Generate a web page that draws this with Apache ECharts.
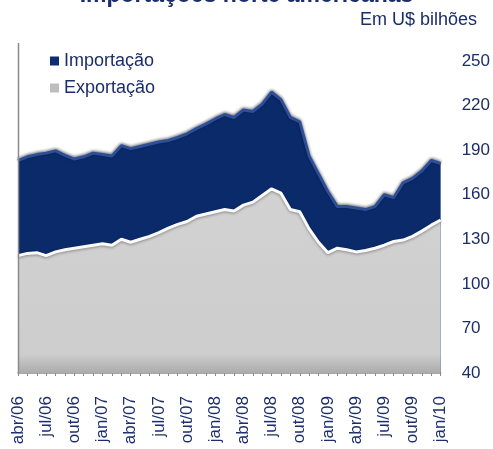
<!DOCTYPE html>
<html>
<head>
<meta charset="utf-8">
<script src="https://cdn.jsdelivr.net/npm/echarts@6/dist/echarts.min.js"></script>
<style>
html,body{margin:0;padding:0;background:#fff;}
#c{width:493px;height:449px;}
</style>
</head>
<body>
<div id="c"></div>
<script>
var months = ['jan','fev','mar','abr','mai','jun','jul','ago','set','out','nov','dez'];
var categories = [];
(function(){
  var y = 2006, m = 3;
  for (var k = 0; k < 46; k++) {
    categories.push(months[m] + '/' + String(y).slice(2));
    m++; if (m > 11) { m = 0; y++; }
  }
})();

var importacao = [183,185.5,187,188,189.5,186.5,184,185.5,188,187,186,193,191,192.5,194,195.5,196.5,198.5,201,204.5,207.5,211,214,212,217,216,221,229,224,212,209,186,174,162,152,152,151,150,152,160,158,168,171,176,183,181];
var exportacao = [119,120.5,121,119,121.5,123,124,125,126,127,126,130,128,130,132,134.5,137.5,140,142,145.5,147,148.5,150,149,153,155,159.5,164,161,150,148.5,137,128,121,124,123,121.5,122.5,124,126,128.5,129.5,132,135.5,139.5,143];

var yTicks = {min: 40, max: 250, interval: 30};

var navy = '#1B2D6B';
var chart = echarts.init(document.getElementById('c'));
chart.setOption({
  animation: false,
  title: {
    text: 'Importações norte americanas',
    left: 'center',
    top: -21,
    textStyle: {color: navy, fontSize: 23, fontWeight: 'bold', fontFamily: 'Liberation Sans, Arial'}
  },
  graphic: [
    {type: 'text', right: 16, top: 11, style: {text: 'Em U$ bilhões', fill: navy, font: '18px "Liberation Sans", Arial'}},
    {type: 'line', shape: {x1: 18.5, y1: 43, x2: 18.5, y2: 373}, style: {stroke: '#8a8a8a', lineWidth: 1.5}, z: 10}
  ],
  legend: {
    orient: 'vertical',
    left: 50,
    top: 52,
    padding: 0,
    itemWidth: 9,
    itemHeight: 9,
    itemGap: 9,
    icon: 'rect',
    textStyle: {color: navy, fontSize: 18, fontFamily: 'Liberation Sans, Arial'},
    data: [
      {name: 'Importação', itemStyle: {color: '#0D2D72', borderWidth: 0}},
      {name: 'Exportação', itemStyle: {color: '#BDBDBD', borderWidth: 0}}
    ]
  },
  grid: {left: 18, right: 52, top: 61, bottom: 76},
  xAxis: {
    type: 'category',
    data: categories,
    boundaryGap: false,
    axisLine: {show: true, lineStyle: {color: '#8a8a8a', width: 1.5}},
    axisTick: {show: true, interval: 0, length: 3, lineStyle: {color: '#8a8a8a'}},
    axisLabel: {interval: 2, rotate: 90, margin: 23, color: navy, fontSize: 17, fontFamily: 'Liberation Sans, Arial'}
  },
  yAxis: {
    type: 'value',
    position: 'right',
    min: yTicks.min, max: yTicks.max, interval: yTicks.interval,
    axisLine: {show: false},
    axisTick: {show: false},
    splitLine: {show: false},
    axisLabel: {margin: 21, color: navy, fontSize: 17, fontFamily: 'Liberation Sans, Arial'}
  },
  series: [
    {
      name: 'Importação',
      type: 'line',
      data: importacao,
      symbol: 'none',
      z: 2,
      itemStyle: {color: '#0D2D72'},
      lineStyle: {color: '#2E4F96', width: 3, shadowColor: 'rgba(0,0,20,0.6)', shadowBlur: 3, shadowOffsetY: -1},
      areaStyle: {color: '#0A2A6A', opacity: 1}
    },
    {
      name: 'Exportação',
      type: 'line',
      data: exportacao,
      symbol: 'none',
      z: 3,
      itemStyle: {color: '#BDBDBD'},
      lineStyle: {color: '#FAFAFA', width: 3, shadowColor: 'rgba(0,0,0,0.35)', shadowBlur: 3, shadowOffsetY: 1},
      areaStyle: {
        opacity: 1,
        color: new echarts.graphic.LinearGradient(0, 0, 0, 1, [
          {offset: 0, color: '#D2D2D2'},
          {offset: 0.9, color: '#CDCDCD'},
          {offset: 1, color: '#ABABAB'}
        ])
      }
    }
  ]
});
</script>
</body>
</html>
